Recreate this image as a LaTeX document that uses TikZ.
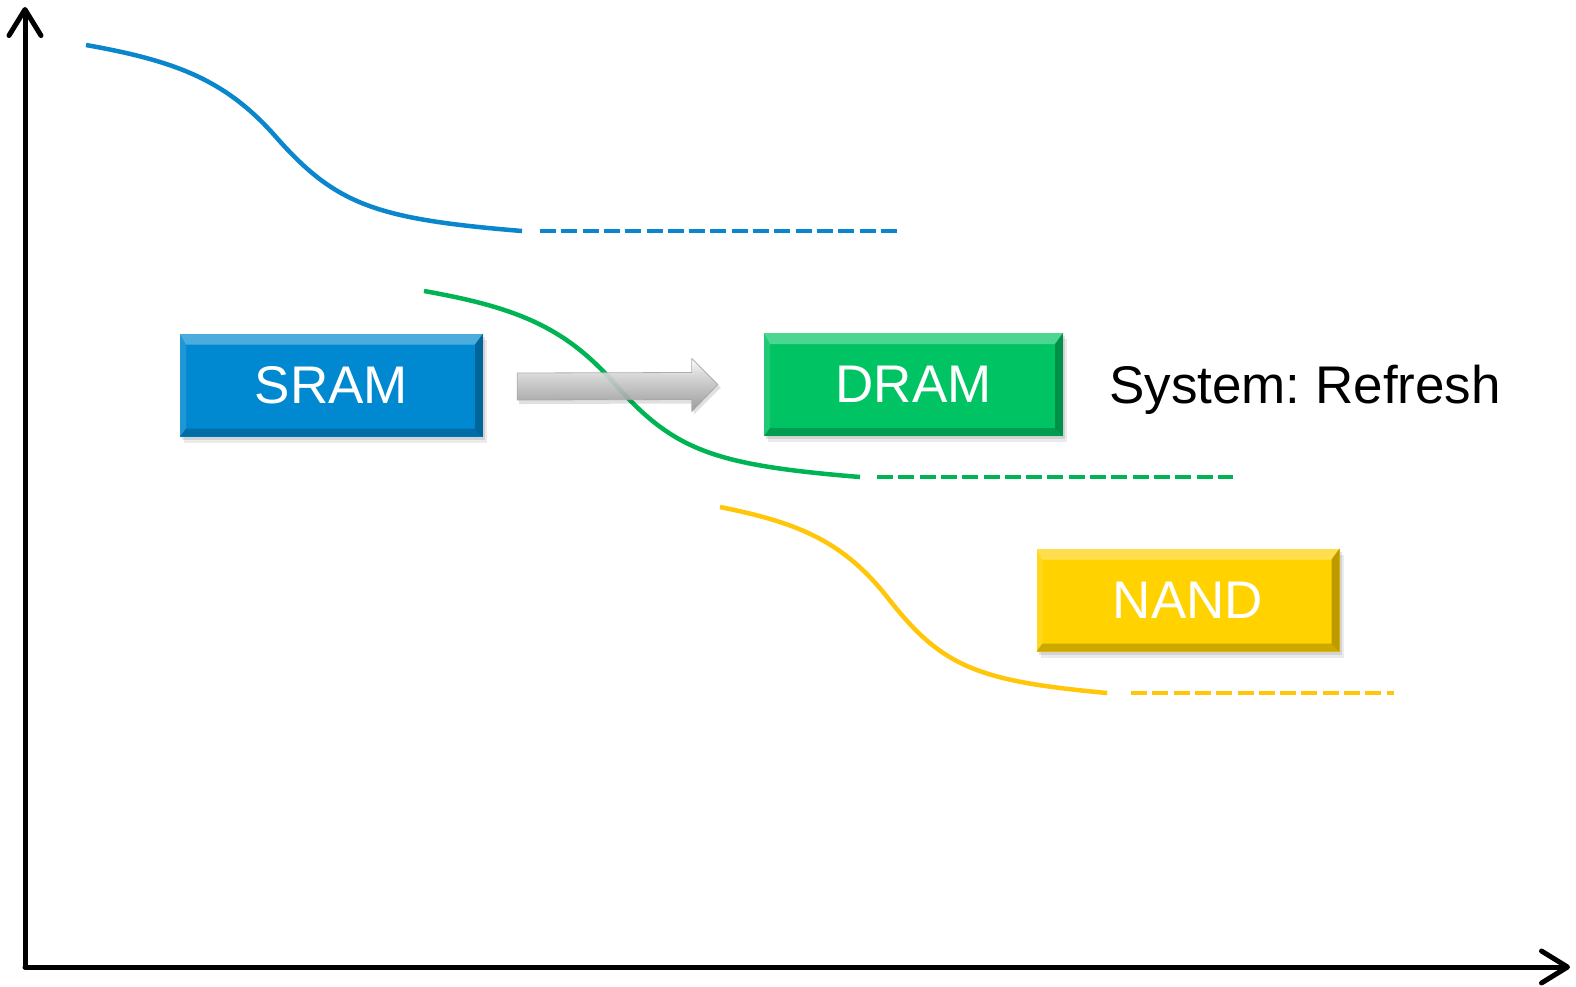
\documentclass[tikz,border=0pt]{standalone}
\usepackage{fontspec}
\setmainfont{Liberation Sans}
\usetikzlibrary{arrows.meta,calc,shadows}
\frenchspacing

\definecolor{sramfill}{HTML}{0089D0}
\definecolor{dramfill}{HTML}{00C364}
\definecolor{nandfill}{HTML}{FFD200}
\definecolor{sramline}{HTML}{0A86CC}
\definecolor{dramline}{HTML}{00B454}
\definecolor{nandline}{HTML}{FFC60A}

\pgfdeclareverticalshading{steelbar}{100bp}{%
  color(0bp)=(black!50); color(30bp)=(black!38); color(62bp)=(black!14);
  color(74bp)=(white); color(88bp)=(black!12); color(100bp)=(black!32)}

\tikzset{
  axis/.style={line width=5pt, line cap=round,
    -{Straight Barb[length=26pt,width=32pt,line width=5pt,line cap=round,line join=round]}},
  curve/.style={line width=4.5pt},
  trail/.style={line width=4.5pt, dash pattern=on 16pt off 5.3pt},
  decay/.pic={
    \draw (0,0) .. controls (90,16) and (140,35) .. (190,92)
                .. controls (250,160) and (290,174) .. (436,186);
  },
  labelfont/.style={font=\fontsize{53}{62}\selectfont},
  membox/.style={
    labelfont, minimum width=303pt, minimum height=103pt, inner sep=0pt,
    text=white,
    drop shadow={shadow xshift=4pt, shadow yshift=-6pt, opacity=.16},
    drop shadow={shadow xshift=2pt, shadow yshift=-3pt, opacity=.22},
    path picture={
      % top bevel
      \fill[white, opacity=.3]
        (path picture bounding box.north west) -- (path picture bounding box.north east)
        -- ([shift={(-8,11)}]path picture bounding box.north east)
        -- ([shift={(6,11)}]path picture bounding box.north west) -- cycle;
      % left bevel
      \fill[white,opacity=.12]
        (path picture bounding box.north west)
        -- ([shift={(6,11)}]path picture bounding box.north west)
        -- ([shift={(6,-8)}]path picture bounding box.south west)
        -- (path picture bounding box.south west) -- cycle;
      % right bevel
      \fill[black,opacity=.26]
        (path picture bounding box.north east) -- (path picture bounding box.south east)
        -- ([shift={(-8,-8)}]path picture bounding box.south east)
        -- ([shift={(-8,11)}]path picture bounding box.north east) -- cycle;
      % bottom bevel
      \fill[black,opacity=.2]
        (path picture bounding box.south west) -- (path picture bounding box.south east)
        -- ([shift={(-8,-8)}]path picture bounding box.south east)
        -- ([shift={(6,-8)}]path picture bounding box.south west) -- cycle;
    }
  }
}

\begin{document}
\begin{tikzpicture}[x=1pt,y=-1pt]
\useasboundingbox (0,0) rectangle (1576,986);

% axes
\coordinate (origin) at (25,967);
\coordinate (ytop) at (25,7);
\coordinate (xend) at (1570,967);
\draw[axis] (origin) -- (ytop);
\draw[axis] (origin) -- (xend);

% cost curves with their dashed continuations
\pic[color=sramline, curve] at (86,45) {decay};
\draw[sramline, trail] (540,231) -- (898,231);

\pic[color=dramline, curve] at (424,291) {decay};
\draw[dramline, trail] (877,477) -- (1233,477);

\pic[color=nandline, curve, xscale=0.888] at (720,507) {decay};
\draw[nandline, trail] (1131,693) -- (1394,693);

% memory boxes
\node[membox, fill=sramfill] (sram) at (331.5,385) {SRAM};
\node[membox, fill=dramfill, minimum width=299pt] (dram) at (913.5,384.5) {DRAM};
\node[membox, fill=nandfill] (nand) at (1188,600) {NAND};

\node[anchor=base west, labelfont, inner sep=0pt]
  (refresh) at (1109,403) {System: Refresh};

% block arrow from SRAM to DRAM
\coordinate (a0) at ($(sram.east)+(34,0)$);
\coordinate (a1) at ($(dram.west)+(-46,0)$);
\fill[black,opacity=.12]
  ($(a0)+(2,-10)$) -- ($(a1)+(-24,-10)$) -- ($(a1)+(-24,-22)$) -- ($(a1)+(3,3)$)
  -- ($(a1)+(-24,30)$) -- ($(a1)+(-24,19)$) -- ($(a0)+(2,19)$) -- cycle;
\shade[shading=steelbar, opacity=.9, draw=black!35, line width=.8pt, line join=round]
  ($(a0)+(0,-12)$) -- ($(a1)+(-26,-12)$) -- ($(a1)+(-26,-26)$) -- (a1)
  -- ($(a1)+(-26,27)$) -- ($(a1)+(-26,15)$) -- ($(a0)+(0,15)$) -- cycle;
\end{tikzpicture}
\end{document}
